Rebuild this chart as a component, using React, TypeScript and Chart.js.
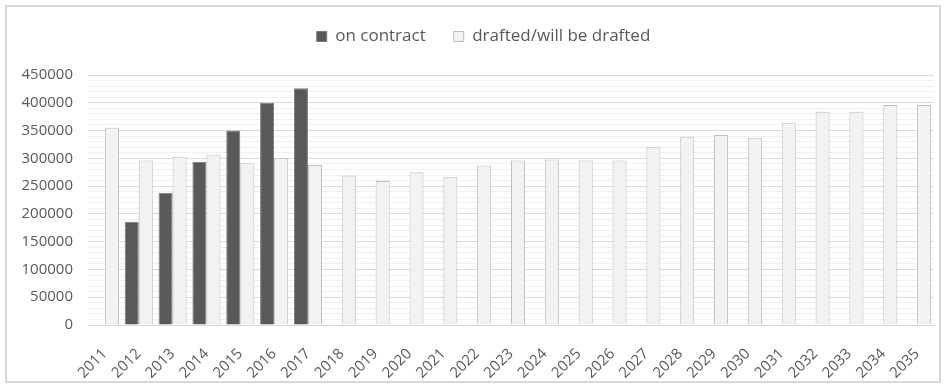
import React, { useEffect, useRef } from "react";
import { Chart, registerables } from "chart.js";

Chart.register(...registerables);

// Years on the category axis
const years = [
  "2011", "2012", "2013", "2014", "2015", "2016", "2017", "2018", "2019", "2020",
  "2021", "2022", "2023", "2024", "2025", "2026", "2027", "2028", "2029", "2030",
  "2031", "2032", "2033", "2034", "2035",
];

// Volumes already under contract (2012–2017 only)
const onContract = [
  null, 186000, 238000, 294000, 350000, 400000, 426000, null, null, null,
  null, null, null, null, null, null, null, null, null, null,
  null, null, null, null, null,
];

// Volumes drafted or planned to be drafted
const drafted = [
  355000, 296000, 303000, 307000, 291000, 300000, 288000, 269000, 259000, 275000,
  267000, 287000, 296000, 298000, 296000, 296000, 321000, 339000, 342000, 337000,
  364000, 384000, 384000, 396000, 396000,
];

const seriesNames = ["on contract", "drafted/will be drafted"];

const yMax = 450000;
const yMajorStep = 50000;
const yMinorStep = 10000;

const TEXT = "#595959";
const FONT = "'Open Sans', 'Noto Sans', sans-serif";

export default function App() {
  const canvasRef = useRef<HTMLCanvasElement | null>(null);

  useEffect(() => {
    const canvas = canvasRef.current;
    if (!canvas) return;

    const chart = new Chart(canvas, {
      type: "bar",
      data: {
        labels: years,
        datasets: [
          {
            label: seriesNames[0],
            data: onContract,
            backgroundColor: "#595959",
            borderColor: "#7a7a7a",
            borderWidth: 1,
            categoryPercentage: 0.83,
            barPercentage: 1,
          },
          {
            label: seriesNames[1],
            data: drafted,
            backgroundColor: "#f2f2f2",
            borderColor: "#bfbfbf",
            borderWidth: 1,
            categoryPercentage: 0.83,
            barPercentage: 1,
          },
        ],
      },
      options: {
        animation: false,
        responsive: false,
        maintainAspectRatio: false,
        layout: { padding: { left: 20, right: 0, top: 0, bottom: 0 } },
        plugins: {
          tooltip: { enabled: false },
          legend: {
            position: "top",
            align: "center",
            labels: {
              boxWidth: 10,
              boxHeight: 10,
              padding: 28,
              color: TEXT,
              font: { family: FONT, size: 17 },
            },
          },
        },
        scales: {
          x: {
            grid: { display: false },
            border: { display: true, color: "#d9d9d9", width: 1 },
            ticks: {
              color: TEXT,
              font: { family: FONT, size: 15 },
              minRotation: 45,
              maxRotation: 45,
              autoSkip: false,
              padding: 12,
            },
            afterFit: (scale: any) => {
              scale.height = 62;
            },
          },
          y: {
            min: 0,
            max: yMax,
            border: { display: false },
            grid: {
              drawTicks: false,
              color: (ctx: any) =>
                ctx.tick && ctx.tick.value % yMajorStep === 0 ? "#d9d9d9" : "#f0f0f0",
              lineWidth: 1,
            },
            ticks: {
              stepSize: yMinorStep,
              autoSkip: false,
              color: TEXT,
              font: { family: FONT, size: 15 },
              padding: 15,
              callback: (value: any) =>
                Number(value) % yMajorStep === 0 ? String(value) : "",
            },
            afterFit: (scale: any) => {
              scale.width = 68;
            },
          },
          // Empty margin on the right of the plot
          yRight: {
            position: "right",
            display: true,
            min: 0,
            max: yMax,
            grid: { display: false },
            border: { display: false },
            ticks: { display: false },
            afterFit: (scale: any) => {
              scale.width = 13;
            },
          },
        },
      },
    });

    // Fixed legend band so the plot starts at the same height every time
    const legend: any = chart.legend;
    if (legend) {
      const baseFit = legend.fit.bind(legend);
      legend.fit = function () {
        baseFit();
        this.height = 75;
        this.bottom = this.top + 75;
      };
      chart.update();
    }

    return () => chart.destroy();
  }, []);

  return (
    <>
      <div
        style={{
          position: "fixed",
          left: 5,
          top: 5,
          width: 936,
          height: 378,
          boxSizing: "border-box",
          border: "2px solid #d9d9d9",
          background: "#ffffff",
        }}
      />
      <canvas
        ref={canvasRef}
        width={947}
        height={387}
        style={{ position: "fixed", left: 0, top: 0, width: 947, height: 387 }}
      />
    </>
  );
}
